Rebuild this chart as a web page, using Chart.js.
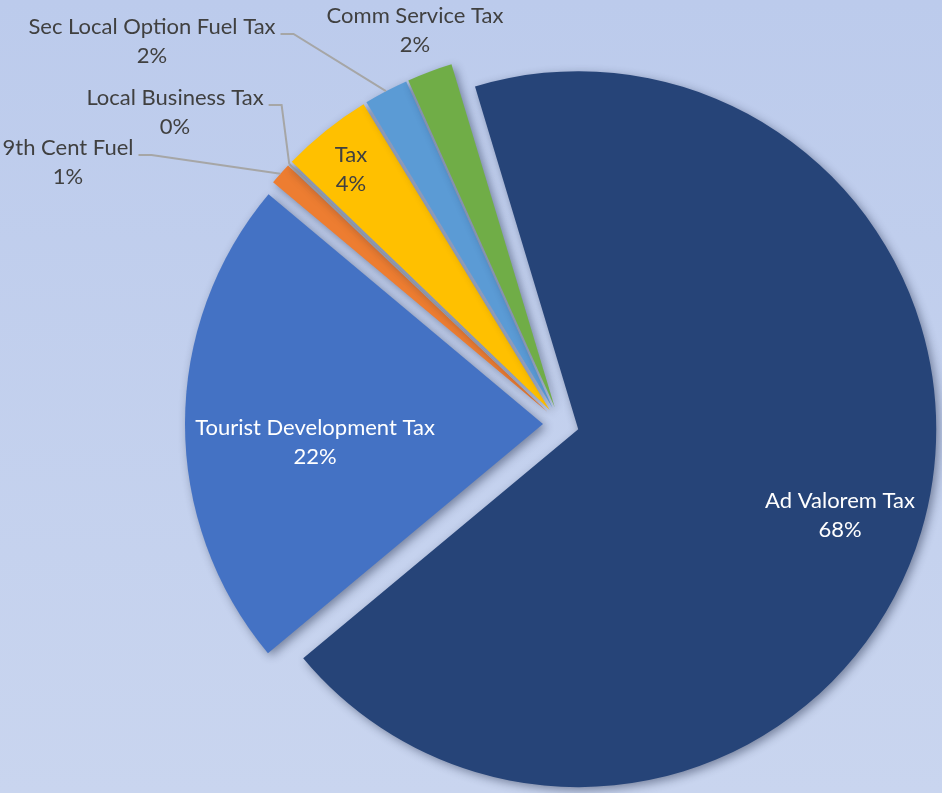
<!DOCTYPE html>
<html>
<head>
<meta charset="utf-8">
<script src="https://cdn.jsdelivr.net/npm/chart.js@4.4.1/dist/chart.umd.min.js"></script>
<style>
  html, body { margin: 0; padding: 0; }
  body { width: 942px; height: 793px; overflow: hidden;
         background: linear-gradient(180deg, #bccbec 0%, #c9d5ef 100%); }
  canvas { display: block; }
</style>
</head>
<body>
<canvas id="tax-pie" width="942" height="793"></canvas>
<script>
// revenue sources, clockwise from the Tourist Development slice
const categories = ["Tourist Development Tax", "9th Cent Fuel", "Local Business Tax", "Tax",
                    "Sec Local Option Fuel Tax", "Comm Service Tax", "Ad Valorem Tax"];
const shares     = [22.15, 1.0, 0.1, 4.1, 2.0, 2.05, 68.6];
const pctLabels  = ["22%", "1%", "0%", "4%", "2%", "2%", "68%"];
const sliceColors = ["#4472C4", "#ED7D31", "#A5A5A5", "#FFC000", "#5B9BD5", "#70AD47", "#264478"];

// where each data label sits (centre of first line), and whether it gets a leader line
const labelLayout = [
  { x: 315, y: 428, color: "#ffffff" },
  { x: 68,  y: 148, color: "#404040", leader: true },
  { x: 175, y: 98,  color: "#404040", leader: true },
  { x: 351, y: 155, color: "#404040" },
  { x: 152, y: 27,  color: "#404040", leader: true },
  { x: 415, y: 16,  color: "#404040" },
  { x: 840, y: 501, color: "#ffffff" },
];

const EXPLODE = 18;
const LINE_GAP = 29;
const FONT = "22px Lato, 'Open Sans', sans-serif";

// ── draw each slice pulled out along its bisector, with a soft shadow ──
const explodedPie = {
  id: "explodedPie",
  beforeDatasetDraw(chart, args) {
    const ctx = chart.ctx;
    args.meta.data.forEach(arc => {
      const mid = (arc.startAngle + arc.endAngle) / 2;
      ctx.save();
      ctx.shadowColor = "rgba(20,30,60,0.45)";
      ctx.shadowBlur = 10;
      ctx.shadowOffsetX = 3;
      ctx.shadowOffsetY = 3;
      ctx.translate(Math.cos(mid) * EXPLODE, Math.sin(mid) * EXPLODE);
      arc.draw(ctx);
      ctx.restore();
    });
    return false;
  },
  afterDatasetsDraw(chart) {
    const ctx = chart.ctx;
    const arcs = chart.getDatasetMeta(0).data;
    ctx.save();
    ctx.font = FONT;
    ctx.textAlign = "center";
    ctx.textBaseline = "middle";
    arcs.forEach((arc, i) => {
      const lay = labelLayout[i];
      const name = categories[i];
      if (lay.leader) {
        const mid = (arc.startAngle + arc.endAngle) / 2;
        const r = arc.outerRadius + EXPLODE;
        const w = ctx.measureText(name).width;
        const sx = lay.x + w / 2 + 5, sy = lay.y + 7;
        ctx.strokeStyle = "#a6a6a6";
        ctx.lineWidth = 2;
        ctx.beginPath();
        ctx.moveTo(sx, sy);
        ctx.lineTo(sx + 13, sy);
        ctx.lineTo(arc.x + Math.cos(mid) * r, arc.y + Math.sin(mid) * r);
        ctx.stroke();
      }
      ctx.fillStyle = lay.color;
      ctx.fillText(name, lay.x, lay.y);
      ctx.fillText(pctLabels[i], lay.x, lay.y + LINE_GAP);
    });
    ctx.restore();
  }
};

function drawChart() {
  new Chart(document.getElementById("tax-pie"), {
    type: "pie",
    data: {
      labels: categories,
      datasets: [{
        data: shares,
        backgroundColor: sliceColors,
        borderWidth: 0,
        radius: 358,
      }],
    },
    options: {
      responsive: false,
      animation: false,
      rotation: 230.2,
      layout: { padding: { left: 180, right: 0, top: 55, bottom: 0 } },
      plugins: { legend: { display: false }, tooltip: { enabled: false } },
    },
    plugins: [explodedPie],
  });
}

if (document.fonts && document.fonts.load) {
  document.fonts.load(FONT).then(drawChart, drawChart);
} else {
  drawChart();
}
</script>
</body>
</html>
